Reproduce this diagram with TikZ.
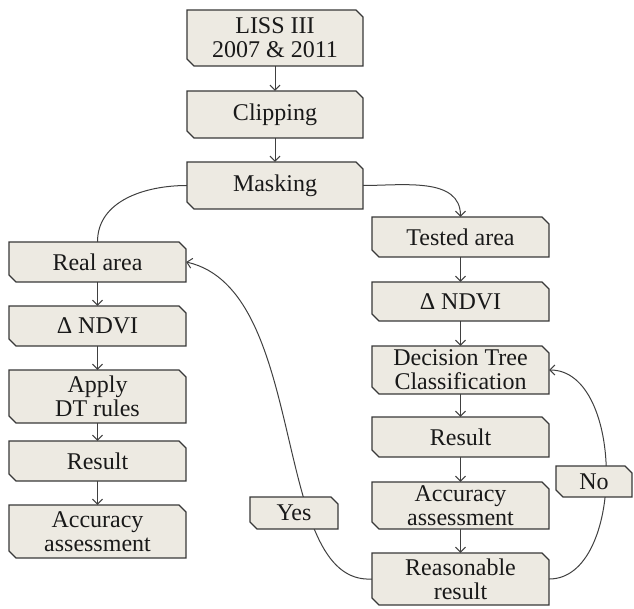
\documentclass[tikz,border=0pt]{standalone}
\usepackage{fontspec}
\setmainfont{Liberation Serif}
\usetikzlibrary{arrows.meta,backgrounds}
\definecolor{boxfill}{HTML}{EDEAE2}
\definecolor{boxline}{HTML}{383838}
\definecolor{conn}{HTML}{404040}
\tikzset{
 snipshape/.style={fill=boxfill, draw=boxline, line width=1.3pt, line join=miter},
 boxlabel/.style={inner sep=0pt, align=center, font=\fontsize{24}{24}\selectfont, text=black!90},
 link/.style={draw=conn, line width=1pt, -{Straight Barb[length=5pt,width=10pt]}},
 plainlink/.style={draw=conn, line width=1pt},
}
\newcommand\mysnip[6]{%
 \path[snipshape] (#2,#3) -- (#4-7,#3) -- (#4,#3+7) -- (#4,#5) -- (#2+7,#5) -- (#2,#5-7) -- cycle;
 \node[boxlabel, minimum width={#4-#2}, minimum height={#5-#3}] (#1) at ({(#2+#4)/2},{(#3+#5)/2}) {#6};
}
\begin{document}
\begin{tikzpicture}[x=1pt,y=-1pt]
\useasboundingbox (0,0) rectangle (634,609);
% top column
\mysnip{liss}{187}{10}{363}{66}{LISS III\\2007 \& 2011}
\mysnip{clip}{187}{91}{363}{138}{Clipping}
\mysnip{mask}{187}{162}{363}{209}{Masking}
% left column
\mysnip{real}{9}{242}{186}{282}{Real area}
\mysnip{ndvil}{9}{306}{186}{346}{Δ NDVI}
\mysnip{apply}{9}{370}{186}{423}{Apply\\DT rules}
\mysnip{resl}{9}{441}{186}{481}{Result}
\mysnip{accl}{9}{505}{186}{558}{Accuracy\\assessment}
% right column
\mysnip{tested}{372}{217}{549}{257}{Tested area}
\mysnip{ndvir}{372}{282}{549}{321}{Δ NDVI}
\mysnip{dtc}{372}{346}{549}{394}{Decision Tree\\Classification}
\mysnip{resr}{372}{417}{549}{457}{Result}
\mysnip{accr}{372}{482}{549}{529}{Accuracy\\assessment}
\mysnip{reason}{372}{553}{549}{605}{Reasonable\\result}
% labels
\mysnip{yes}{250}{497}{338}{529}{Yes}
\mysnip{no}{556}{466}{632}{497}{No}
\begin{pgfonlayer}{background}
\draw[link] (liss.south) -- (clip.north);
\draw[link] (clip.south) -- (mask.north);
\draw[plainlink] (mask.west) to[out=180,in=90] (real.north);
\draw[link] (mask.east) to[out=0,in=90] (tested.north);
\draw[link] (real.south) -- (ndvil.north);
\draw[link] (ndvil.south) -- (apply.north);
\draw[link] (apply.south) -- (resl.north);
\draw[link] (resl.south) -- (accl.north);
\draw[link] (tested.south) -- (ndvir.north);
\draw[link] (ndvir.south) -- (dtc.north);
\draw[link] (dtc.south) -- (resr.north);
\draw[link] (resr.south) -- (accr.north);
\draw[link] (accr.south) -- (reason.north);
\draw[link] (reason.west) .. controls +(-102,6) and +(124,28) .. (real.east);
\draw[link] (reason.east) .. controls +(76,0) and +(76,0) .. (dtc.east);
\end{pgfonlayer}
\end{tikzpicture}
\end{document}
